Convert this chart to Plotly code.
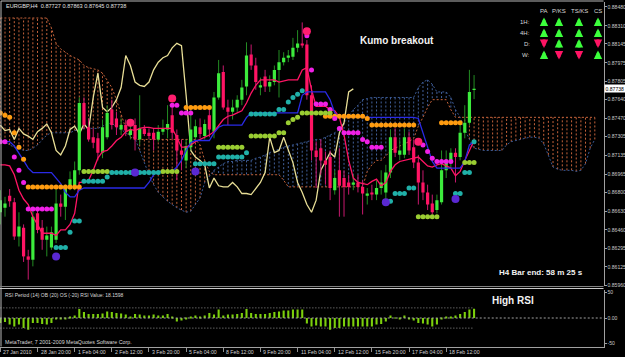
import plotly.graph_objects as go

# ---------------- data (EURGBP, H4) ----------------
opens = [0.8662, 0.8666, 0.8677, 0.8671, 0.8640, 0.8648, 0.8622, 0.8619, 0.8661, 0.8648,
         0.8637, 0.8630, 0.8637, 0.8670, 0.8667, 0.8684, 0.8684, 0.8700, 0.8761, 0.8739,
         0.8730, 0.8729, 0.8716, 0.8730, 0.8755, 0.8747, 0.8737, 0.8741, 0.8732, 0.8741,
         0.8728, 0.8738, 0.8734, 0.8734, 0.8728, 0.8735, 0.8737, 0.8750, 0.8732, 0.8718,
         0.8709, 0.8721, 0.8730, 0.8739, 0.8731, 0.8750, 0.8735, 0.8766, 0.8789, 0.8757,
         0.8753, 0.8757, 0.8764, 0.8776, 0.8805, 0.8795, 0.8775, 0.8785, 0.8776, 0.8780,
         0.8791, 0.8798, 0.8802, 0.8803, 0.8811, 0.8815, 0.8814, 0.8768, 0.8718, 0.8720,
         0.8709, 0.8712, 0.8682, 0.8700, 0.8693, 0.8689, 0.8687, 0.8689, 0.8685, 0.8677,
         0.8680, 0.8678, 0.8684, 0.8680, 0.8698, 0.8730, 0.8714, 0.8714, 0.8730, 0.8721,
         0.8707, 0.8689, 0.8680, 0.8670, 0.8664, 0.8671, 0.8700, 0.8707, 0.8716, 0.8712,
         0.8734, 0.8743, 0.87727]
highs = [0.8682, 0.8676, 0.8683, 0.8675, 0.8662, 0.8651, 0.8628, 0.8664, 0.8666, 0.8655,
         0.8649, 0.8649, 0.8685, 0.8678, 0.8687, 0.8699, 0.8708, 0.8766, 0.8766, 0.8747,
         0.8738, 0.8734, 0.8746, 0.8759, 0.8764, 0.8753, 0.8747, 0.8746, 0.8746, 0.8747,
         0.8768, 0.8741, 0.8738, 0.8738, 0.8741, 0.8746, 0.8759, 0.8757, 0.8737, 0.8728,
         0.8728, 0.8755, 0.8746, 0.8747, 0.8746, 0.8759, 0.8771, 0.8800, 0.8795, 0.8764,
         0.8764, 0.8768, 0.8782, 0.8816, 0.8814, 0.8802, 0.8784, 0.8791, 0.8786, 0.8795,
         0.8809, 0.8807, 0.8809, 0.8820, 0.8827, 0.8834, 0.8818, 0.8777, 0.8726, 0.8728,
         0.8717, 0.8718, 0.8700, 0.8720, 0.8700, 0.8696, 0.8696, 0.8696, 0.8691, 0.8684,
         0.8687, 0.8691, 0.8700, 0.8705, 0.8737, 0.8738, 0.8728, 0.8738, 0.8735, 0.8728,
         0.8714, 0.8700, 0.8687, 0.8678, 0.8678, 0.8718, 0.8718, 0.8720, 0.8720, 0.8741,
         0.8759, 0.8791, 0.87863]
lows = [0.8651, 0.8658, 0.8667, 0.8637, 0.8631, 0.8617, 0.8601, 0.8613, 0.8643, 0.8628,
        0.8622, 0.8628, 0.8634, 0.8658, 0.8655, 0.8682, 0.8682, 0.8696, 0.8737, 0.8726,
        0.8720, 0.8709, 0.8711, 0.8728, 0.8737, 0.8732, 0.8732, 0.8731, 0.8728, 0.8718,
        0.8723, 0.8731, 0.8728, 0.8718, 0.8726, 0.8732, 0.8729, 0.8728, 0.8691, 0.8700,
        0.8702, 0.8718, 0.8728, 0.8729, 0.8728, 0.8730, 0.8729, 0.8764, 0.8755, 0.8741,
        0.8746, 0.8753, 0.8759, 0.8768, 0.8791, 0.8773, 0.8768, 0.8771, 0.8771, 0.8777,
        0.8766, 0.8795, 0.8798, 0.8800, 0.8807, 0.8811, 0.8764, 0.8709, 0.8684, 0.8696,
        0.8687, 0.8673, 0.8678, 0.8658, 0.8658, 0.8678, 0.8682, 0.8680, 0.8660, 0.8669,
        0.8673, 0.8673, 0.8678, 0.8669, 0.8693, 0.8712, 0.8709, 0.8711, 0.8714, 0.8702,
        0.8669, 0.8673, 0.8664, 0.8660, 0.8661, 0.8669, 0.8693, 0.8702, 0.8689, 0.8709,
        0.8729, 0.8741, 0.87645]
closes = [0.8673, 0.8670, 0.8672, 0.8640, 0.8649, 0.8622, 0.8619, 0.8658, 0.8646, 0.8637,
          0.8641, 0.8644, 0.8670, 0.8667, 0.8684, 0.8692, 0.8700, 0.8761, 0.8741, 0.8728,
          0.8725, 0.8716, 0.8739, 0.8752, 0.8741, 0.8739, 0.8741, 0.8736, 0.8737, 0.8728,
          0.8738, 0.8733, 0.8731, 0.8728, 0.8735, 0.8738, 0.8742, 0.8734, 0.8718, 0.8714,
          0.8722, 0.8737, 0.8740, 0.8733, 0.8742, 0.8737, 0.8766, 0.8788, 0.8757, 0.8753,
          0.8757, 0.8764, 0.8775, 0.8804, 0.8795, 0.8780, 0.8777, 0.8776, 0.8780, 0.8791,
          0.8798, 0.8802, 0.8804, 0.8811, 0.8815, 0.8813, 0.8768, 0.8718, 0.8712, 0.8709,
          0.8705, 0.8684, 0.8693, 0.8686, 0.8685, 0.8685, 0.8689, 0.8685, 0.8679, 0.8679,
          0.8678, 0.8684, 0.8689, 0.8698, 0.8730, 0.8716, 0.8718, 0.8730, 0.8718, 0.8707,
          0.8689, 0.8680, 0.8669, 0.8662, 0.8673, 0.8700, 0.8708, 0.8716, 0.8712, 0.8734,
          0.8743, 0.8771, 0.87738]

tenkan = [0.8705, 0.8705, 0.8704, 0.8696, 0.8682, 0.8674, 0.8669, 0.8658, 0.8651, 0.8643,
          0.8643, 0.8643, 0.8641, 0.8646, 0.8646, 0.8651, 0.8661, 0.8689, 0.8689, 0.8691,
          0.8700, 0.8711, 0.8717, 0.8718, 0.8722, 0.8727, 0.8730, 0.8735, 0.8737, 0.8736,
          0.8738, 0.8739, 0.8739, 0.8738, 0.8738, 0.8738, 0.8738, 0.8738, 0.8730, 0.8721,
          0.8721, 0.8723, 0.8726, 0.8728, 0.8730, 0.8732, 0.8735, 0.8741, 0.8746, 0.8749,
          0.8750, 0.8752, 0.8754, 0.8761, 0.8770, 0.8777, 0.8782, 0.8782, 0.8782, 0.8782,
          0.8780, 0.8781, 0.8782, 0.8782, 0.8782, 0.8791, 0.8793, 0.8773, 0.8758, 0.8758,
          0.8758, 0.8755, 0.8754, 0.8748, 0.8732, 0.8709, 0.8693, 0.8689, 0.8688, 0.8687,
          0.8690, 0.8692, 0.8686, 0.8689, 0.8699, 0.8705, 0.8708, 0.8709, 0.8710, 0.8711,
          0.8712, 0.8708, 0.8704, 0.8703, 0.8705, 0.8706, 0.8704, 0.8702, 0.8695, 0.8699,
          0.8709, 0.8718, 0.8727]
kijun = [0.8726, 0.8726, 0.8726, 0.8722, 0.8716, 0.8709, 0.8702, 0.8698, 0.8698, 0.8698,
         0.8698, 0.8698, 0.8693, 0.8688, 0.8680, 0.8676, 0.8676, 0.8682, 0.8684, 0.8684,
         0.8684, 0.8684, 0.8684, 0.8684, 0.8684, 0.8684, 0.8684, 0.8684, 0.8684, 0.8684,
         0.8684, 0.8684, 0.8689, 0.8696, 0.8699, 0.8699, 0.8699, 0.8699, 0.8703, 0.8709,
         0.8718, 0.8725, 0.8727, 0.8727, 0.8727, 0.8727, 0.8734, 0.8739, 0.8741, 0.8741,
         0.8741, 0.8741, 0.8741, 0.8748, 0.8752, 0.8752, 0.8752, 0.8752, 0.8752, 0.8752,
         0.8752, 0.8752, 0.8752, 0.8752, 0.8752, 0.8768, 0.8771, 0.8771, 0.8771, 0.8771,
         0.8771, 0.8764, 0.8752, 0.8748, 0.8748, 0.8748, 0.8748, 0.8748, 0.8748, 0.8748,
         0.8748, 0.8748, 0.8748, 0.8748, 0.8748, 0.8748, 0.8748, 0.8748, 0.8748, 0.8748,
         0.8747, 0.8735, 0.8721, 0.8708, 0.8702, 0.8702, 0.8702, 0.8702, 0.8702, 0.8702,
         0.8708, 0.8723, 0.8726]

# Senkou spans (already displaced 26 bars forward, so 26 values longer)
span_a = [0.8728, 0.8726, 0.8723, 0.8721, 0.8720, 0.8718, 0.8718, 0.8720, 0.8723, 0.8728,
          0.8732, 0.8734, 0.8734, 0.8734, 0.8734, 0.8734, 0.8736, 0.8737, 0.8738, 0.8738,
          0.8738, 0.8738, 0.8740, 0.8742, 0.8743, 0.8739, 0.8737, 0.8734, 0.8731, 0.8729,
          0.8718, 0.8708, 0.8696, 0.8687, 0.8680, 0.8676, 0.8672, 0.8669, 0.8666, 0.8664,
          0.8662, 0.8663, 0.8669, 0.8675, 0.8689, 0.8695, 0.8700, 0.8703, 0.8706, 0.8708,
          0.8708, 0.8709, 0.8709, 0.8709, 0.8709, 0.8711, 0.8712, 0.8714, 0.8716, 0.8718,
          0.8719, 0.8721, 0.8722, 0.8723, 0.8724, 0.8725, 0.8726, 0.8727, 0.8728, 0.8728,
          0.8730, 0.8732, 0.8734, 0.8737, 0.8743, 0.8749, 0.8755, 0.8759, 0.8764, 0.8765,
          0.8766, 0.8766, 0.8766, 0.8766, 0.8766, 0.8766, 0.8766, 0.8766, 0.8766, 0.8766,
          0.8775, 0.8780, 0.8782, 0.8778, 0.8771, 0.8771, 0.8771, 0.8766, 0.8755, 0.8748,
          0.8737, 0.8728, 0.8720, 0.8719, 0.8718, 0.8718, 0.8718, 0.8718, 0.8718, 0.8723,
          0.8726, 0.8727, 0.8728, 0.8729, 0.8730, 0.8730, 0.8729, 0.8724, 0.8714, 0.8703,
          0.8701, 0.8700, 0.8700, 0.8700, 0.8699, 0.8700, 0.8706, 0.8720, 0.8728]
span_b = [0.8838, 0.8838, 0.8838, 0.8838, 0.8838, 0.8838, 0.8838, 0.8838, 0.8838, 0.8838,
          0.8838, 0.8829, 0.8815, 0.8810, 0.8807, 0.8804, 0.8802, 0.8800, 0.8795, 0.8793,
          0.8792, 0.8791, 0.8788, 0.8782, 0.8775, 0.8764, 0.8750, 0.8738, 0.8730, 0.8728,
          0.8728, 0.8728, 0.8728, 0.8728, 0.8728, 0.8728, 0.8728, 0.8728, 0.8728, 0.8728,
          0.8728, 0.8728, 0.8728, 0.8723, 0.8709, 0.8699, 0.8696, 0.8696, 0.8696, 0.8696,
          0.8696, 0.8696, 0.8696, 0.8696, 0.8696, 0.8696, 0.8696, 0.8696, 0.8696, 0.8696,
          0.8696, 0.8691, 0.8685, 0.8685, 0.8685, 0.8685, 0.8685, 0.8685, 0.8685, 0.8685,
          0.8685, 0.8685, 0.8685, 0.8685, 0.8685, 0.8685, 0.8685, 0.8685, 0.8685, 0.8699,
          0.8705, 0.8709, 0.8709, 0.8713, 0.8718, 0.8720, 0.8722, 0.8724, 0.8726, 0.8729,
          0.8740, 0.8748, 0.8757, 0.8764, 0.8764, 0.8764, 0.8764, 0.8755, 0.8748, 0.8748,
          0.8748, 0.8748, 0.8748, 0.8748, 0.8748, 0.8748, 0.8748, 0.8748, 0.8748, 0.8748,
          0.8748, 0.8748, 0.8748, 0.8748, 0.8748, 0.8748, 0.8748, 0.8748, 0.8748, 0.8748,
          0.8748, 0.8748, 0.8748, 0.8748, 0.8748, 0.8748, 0.8748, 0.8748, 0.8748]

# RSI(14) - 50 histogram
rsi_hist = [-10, -8, -13, -17, -13, -20, -23, -10, -10, -12, -13, -10, -3, -1, -2, 3, 5, 18, 12, 8,
            8, 8, 9, 13, 12, 10, 9, 7, 2, 8, 7, 5, 5, 7, 5, 5, 8, 1, -7, -5,
            -1, 1, 5, 3, 5, 10, 7, 17, 5, 7, 7, 8, 10, 18, 10, 8, 8, 8, 10, 12,
            13, 15, 15, 17, 17, 17, -11, -17, -15, -17, -17, -23, -20, -20, -17, -17, -17, -17, -17, -17,
            -17, -13, -12, -7, 5, 0.5, -1, 5, -2, -5, -10, -11, -13, -17, -13, -2, 2, 3, 5, 8,
            12, 17, 18.1598]
rsi_levels = [20, -20]

# stop / signal dots (bar index, price)
orange_x = [0, 1, 2, 3, 4, 5, 6, 7, 8, 9, 10, 11, 12, 13, 14, 15, 16, 17,
            40, 41, 42, 43, 44, 45, 70, 71, 72, 73, 74, 75, 76, 77, 78, 79,
            80, 81, 82, 83, 84, 85, 86, 87, 88, 89, 95, 96, 97, 98, 99]
orange_y = [0.8752, 0.8750, 0.8748, 0.8734, 0.8721, 0.8710, 0.8685, 0.8685, 0.8685, 0.8685,
            0.8685, 0.8685, 0.8685, 0.8685, 0.8685, 0.8685, 0.8685, 0.8685,
            0.8757, 0.8757, 0.8757, 0.8757, 0.8757, 0.8757,
            0.8749, 0.8749, 0.8749, 0.8749, 0.8749, 0.8749, 0.8749, 0.8749, 0.8749, 0.8747,
            0.8741, 0.8741, 0.8741, 0.8741, 0.8741, 0.8741, 0.8741, 0.8741, 0.8741, 0.8741,
            0.8743, 0.8743, 0.8743, 0.8743, 0.8743]
magenta_x = [0, 1, 3, 4, 5, 6, 7, 8, 9, 10, 11, 37, 38, 39, 40, 41, 66, 67, 68, 69, 70,
             71, 72, 73, 74, 75, 76, 77, 78, 79, 80, 81, 82, 91, 92, 93, 94, 95, 96, 97]
magenta_y = [0.8726, 0.8726, 0.8712, 0.8700, 0.8689, 0.8665, 0.8665, 0.8665, 0.8665, 0.8665,
             0.8665, 0.8759, 0.8759, 0.8752, 0.8752, 0.8752, 0.8822, 0.8791, 0.8760, 0.8760,
             0.8760, 0.8755, 0.8747, 0.8738, 0.8734, 0.8734, 0.8734, 0.8734, 0.8728, 0.8726,
             0.8721, 0.8721, 0.8721, 0.8723, 0.8717, 0.8711, 0.8708, 0.8708, 0.8708, 0.8708]
lime_x = [18, 19, 20, 21, 22, 23, 35, 36, 37, 38, 47, 48, 49, 50, 51, 52,
          54, 55, 56, 57, 58, 59, 60, 61, 62, 63, 64, 65, 66, 67, 68, 69, 70, 71,
          90, 91, 92, 93, 94, 100, 101, 102]
lime_y = [0.8699, 0.8699, 0.8699, 0.8699, 0.8699, 0.8699, 0.8699, 0.8699, 0.8699, 0.8699,
          0.8721, 0.8721, 0.8721, 0.8721, 0.8721, 0.8721,
          0.8731, 0.8731, 0.8731, 0.8731, 0.8731, 0.8731, 0.8734, 0.8734, 0.8743, 0.8746,
          0.8748, 0.8752, 0.8752, 0.8752, 0.8752, 0.8752, 0.8752, 0.8752,
          0.8658, 0.8658, 0.8658, 0.8658, 0.8658, 0.8707, 0.8707, 0.8707]
teal_x = [12, 13, 14, 15, 16, 17, 18, 19, 20, 21, 22, 23, 24, 25, 26, 27, 28, 29, 30, 31,
          32, 33, 34, 42, 43, 44, 45, 46, 47, 48, 49, 50, 51, 52, 53, 54, 55, 56, 57, 58,
          59, 60, 61, 62, 63, 64, 65, 84, 85, 86, 87, 88, 89, 98, 99, 100, 101, 102]
teal_y = [0.8630, 0.8630, 0.8630, 0.8644, 0.8654, 0.8654, 0.8690, 0.8690, 0.8690, 0.8690,
          0.8690, 0.8694, 0.8698, 0.8698, 0.8698, 0.8698, 0.8698, 0.8698, 0.8698, 0.8698,
          0.8698, 0.8698, 0.8698, 0.8706, 0.8706, 0.8706, 0.8706, 0.8706, 0.8712, 0.8712,
          0.8712, 0.8712, 0.8712, 0.8712, 0.8716, 0.8751, 0.8751, 0.8751, 0.8751, 0.8751,
          0.8751, 0.8755, 0.8755, 0.8762, 0.8766, 0.8769, 0.8772, 0.8672, 0.8679, 0.8679,
          0.8679, 0.8684, 0.8684, 0.8679, 0.8679, 0.8698, 0.8698, 0.8726]
purple_x = [12, 29, 42, 83, 98]
purple_y = [0.8622, 0.8698, 0.8699, 0.8671, 0.8674]
bigred_x = [28, 37, 66, 90]
bigred_y = [0.8743, 0.8765, 0.8826, 0.8726]

date_labels = ["27 Jan 2010", "28 Jan 20:00", "1 Feb 04:00", "2 Feb 12:00", "3 Feb 20:00",
               "5 Feb 04:00", "8 Feb 12:00", "9 Feb 20:00", "11 Feb 04:00", "12 Feb 12:00",
               "15 Feb 20:00", "17 Feb 04:00", "18 Feb 12:00"]
date_label_bars = [0, 8, 16, 24, 32, 40, 48, 56, 64, 72, 80, 88, 96]
price_ticks = [0.88480, 0.88310, 0.88145, 0.87975, 0.87805, 0.87640, 0.87470, 0.87305,
               0.87135, 0.86965, 0.86800, 0.86630, 0.86460, 0.86295, 0.86125, 0.85960]
rsi_ticks = [50, 0, -50]
rsi_tick_text = ["50", "0.00", "-50"]
chikou_shift = 26

table_cols = ["PA", "P/KS", "TS/KS", "CS"]
table_rows = ["1H:", "4H:", "D:", "W:"]
table_signals = [[1, 1, 1, 1], [1, 1, 1, 1], [-1, 1, 1, -1], [1, -1, -1, 1]]

# ---------------- figure ----------------
W, H = 625, 357
FONT = "Liberation Sans"
N = len(closes)
idx = list(range(N))


def px(x):
    return x / W


def py(y):
    return 1 - y / H


def segments(xs, y0, y1):
    X, Y = [], []
    for x, a, b in zip(xs, y0, y1):
        X += [x, x, None]
        Y += [a, b, None]
    return X, Y


fig = go.Figure()

# Kumo (cloud) drawn as dotted vertical strokes
kk = list(range(len(span_a)))
up_k = [k for k in kk if span_b[k] >= span_a[k]]
dn_k = [k for k in kk if span_b[k] < span_a[k]]
for ks, col in ((up_k, "#C4623A"), (dn_k, "#42609A")):
    X, Y = segments(ks, [span_a[k] for k in ks], [span_b[k] for k in ks])
    fig.add_trace(go.Scatter(x=X, y=Y, mode="lines", hoverinfo="skip",
                             line=dict(color=col, width=1, dash="2px,2px")))
fig.add_trace(go.Scatter(x=kk, y=span_b, mode="lines", hoverinfo="skip",
                         line=dict(color="#C4623A", width=1, dash="2px,2px")))
fig.add_trace(go.Scatter(x=kk, y=span_a, mode="lines", hoverinfo="skip",
                         line=dict(color="#3A5A96", width=1, dash="2px,2px")))

# Chikou span
fig.add_trace(go.Scatter(x=idx[:N - chikou_shift], y=closes[chikou_shift:], mode="lines",
                         hoverinfo="skip", line=dict(color="#E8DE96", width=1.3)))

# candles
bull = [i for i in idx if closes[i] >= opens[i]]
bear = [i for i in idx if closes[i] < opens[i]]
for grp, wick, body in ((bull, "#238C23", "#3CEB3C"), (bear, "#C8186E", "#FF1464")):
    X, Y = segments(grp, [lows[i] for i in grp], [highs[i] for i in grp])
    fig.add_trace(go.Scatter(x=X, y=Y, mode="lines", hoverinfo="skip",
                             line=dict(color=wick, width=1)))
    X, Y = segments(grp, [opens[i] for i in grp], [closes[i] for i in grp])
    fig.add_trace(go.Scatter(x=X, y=Y, mode="lines", hoverinfo="skip",
                             line=dict(color=body, width=3.2)))

# Tenkan / Kijun
fig.add_trace(go.Scatter(x=idx, y=tenkan, mode="lines", hoverinfo="skip",
                         line=dict(color="#FF1464", width=1.3)))
fig.add_trace(go.Scatter(x=idx, y=kijun, mode="lines", hoverinfo="skip",
                         line=dict(color="#2A2AE6", width=1.3)))

# dots
for xs, ys, col, sz in ((orange_x, orange_y, "#FF9C10", 5), (magenta_x, magenta_y, "#F020E6", 5),
                        (lime_x, lime_y, "#9ACD32", 5), (teal_x, teal_y, "#20B0A8", 5),
                        (purple_x, purple_y, "#5A28D2", 8), (bigred_x, bigred_y, "#FF1E6E", 8)):
    fig.add_trace(go.Scatter(x=xs, y=ys, mode="markers", hoverinfo="skip",
                             marker=dict(color=col, size=sz, line=dict(width=0))))

# RSI panel
fig.add_trace(go.Bar(x=idx, y=rsi_hist, xaxis="x2", yaxis="y2", width=0.45,
                     marker=dict(color="#7CD00C", line=dict(width=0)), hoverinfo="skip"))
for lv in rsi_levels:
    fig.add_trace(go.Scatter(x=[idx[0], idx[-1]], y=[lv, lv], xaxis="x2", yaxis="y2",
                             mode="lines", hoverinfo="skip",
                             line=dict(color="#909090", width=1, dash="1px,2px")))
fig.add_trace(go.Scatter(x=[-1, 131], y=[0, 0], xaxis="x2", yaxis="y2", mode="lines",
                         hoverinfo="skip", line=dict(color="#A0A0A0", width=1, dash="2px,2px")))

XR = [-0.0775, 129.87]
XD = [0, 603.5 / W]
axis_font = dict(family=FONT, size=5.1, color="#C8C8C8")
fig.update_layout(
    width=W, height=H, margin=dict(l=0, r=0, t=0, b=0, pad=0),
    paper_bgcolor="black", plot_bgcolor="black", showlegend=False,
    font=dict(family=FONT, color="#E0E0E0"),
    xaxis=dict(domain=XD, range=XR, anchor="y", showgrid=False, zeroline=False,
               showticklabels=False, showline=False, automargin=False),
    xaxis2=dict(domain=XD, range=XR, anchor="y2", showgrid=False, zeroline=False,
                showticklabels=False, showline=True, linecolor="#A0A0A0", linewidth=1,
                ticks="outside", ticklen=4, tickcolor="#909090", tickvals=date_label_bars,
                automargin=False),
    yaxis=dict(domain=[1 - 286 / H, 1 - 2 / H], range=[0.85952, 0.88525], anchor="x",
               side="right", showgrid=False, zeroline=False, showline=True,
               linecolor="#A0A0A0", linewidth=1, ticks="outside", ticklen=2,
               tickcolor="#A0A0A0", tickvals=price_ticks, ticklabelstandoff=0,
               ticktext=["%.5f" % v for v in price_ticks], tickfont=axis_font,
               automargin=False),
    yaxis2=dict(domain=[1 - 346.5 / H, 1 - 289.5 / H], range=[-56.3, 56.3], anchor="x2",
                side="right", showgrid=False, zeroline=False, showline=True,
                linecolor="#A0A0A0", linewidth=1, ticks="outside", ticklen=2,
                tickcolor="#A0A0A0", tickvals=rsi_ticks, ticktext=rsi_tick_text,
                ticklabelstandoff=0, tickfont=axis_font, automargin=False),
)

shapes = [
    dict(type="line", xref="paper", yref="paper", x0=px(1), x1=px(603.5), y0=py(1), y1=py(1),
         line=dict(color="#B8B8B8", width=1)),
    dict(type="line", xref="paper", yref="paper", x0=px(1), x1=px(1), y0=py(1), y1=py(346.5),
         line=dict(color="#B8B8B8", width=1)),
    dict(type="line", xref="paper", yref="paper", x0=0, x1=px(603.5), y0=py(286.5),
         y1=py(286.5), line=dict(color="#808080", width=1)),
    dict(type="line", xref="paper", yref="paper", x0=0, x1=px(603.5), y0=py(288.5),
         y1=py(288.5), line=dict(color="#C8C8C8", width=1)),
]
fig.update_layout(shapes=shapes)

ann = []
ann.append(dict(xref="paper", yref="paper", x=px(4), y=py(6), xanchor="left", yanchor="middle",
                text="EURGBP,H4\u00a0 0.87727 0.87863 0.87645 0.87738", showarrow=False,
                font=dict(family=FONT, size=5.6, color="#E0E0E0")))
ann.append(dict(xref="paper", yref="paper", x=px(397), y=py(40), xanchor="center",
                yanchor="middle", text="<b>Kumo breakout</b>", showarrow=False,
                font=dict(family=FONT, size=10, color="#F2F2F2")))
ann.append(dict(xref="paper", yref="paper", x=px(497), y=py(272), xanchor="left",
                yanchor="middle", text="<b>H4 Bar end: 58 m 25 s</b>", showarrow=False,
                font=dict(family=FONT, size=8, color="#F2F2F2")))
ann.append(dict(xref="paper", yref="paper", x=px(490), y=py(300), xanchor="left",
                yanchor="middle", text="<b>High RSI</b>", showarrow=False,
                font=dict(family=FONT, size=10, color="#F2F2F2")))
ann.append(dict(xref="paper", yref="paper", x=px(3), y=py(294.5), xanchor="left",
                yanchor="middle", text="RSI Period (14) OB (20) OS (-20) RSI Value: 18.1598",
                showarrow=False, font=dict(family=FONT, size=5, color="#D8D8D8")))
ann.append(dict(xref="paper", yref="paper", x=px(3), y=py(342), xanchor="left",
                yanchor="middle", text="MetaTrader, 7 2001-2009 MetaQuotes Software Corp.",
                showarrow=False, font=dict(family=FONT, size=5.3, color="#D8D8D8")))
for b, lab in zip(date_label_bars, date_labels):
    ann.append(dict(xref="x2", yref="paper", x=b, y=py(352), xanchor="left", yanchor="middle",
                    text=lab, showarrow=False, xshift=1,
                    font=dict(family=FONT, size=5.2, color="#D0D0D0")))
# current price box
ann.append(dict(xref="paper", yref="y", x=px(604), y=closes[-1], xanchor="left",
                yanchor="middle", text="%.5f" % closes[-1], showarrow=False,
                bgcolor="#FFFFFF", borderpad=0.5,
                font=dict(family=FONT, size=5.1, color="#000000")))
# signal table
col_px = [544, 559, 579, 598]
row_px = [22, 33, 43.5, 55]
for c, name in enumerate(table_cols):
    ann.append(dict(xref="paper", yref="paper", x=px(col_px[c]), y=py(11.5), xanchor="center",
                    yanchor="middle", text=name, showarrow=False,
                    font=dict(family=FONT, size=6, color="#D8D8D8")))
for r, name in enumerate(table_rows):
    ann.append(dict(xref="paper", yref="paper", x=px(532), y=py(row_px[r]), xanchor="right",
                    yanchor="middle", text=name, showarrow=False,
                    font=dict(family=FONT, size=6, color="#D8D8D8")))
    for c in range(len(table_cols)):
        s = table_signals[r][c]
        col = "#3CFF3C" if s > 0 else "#FF1464"
        tip = row_px[r] - 4.5 if s > 0 else row_px[r] + 4.5
        ann.append(dict(xref="paper", yref="paper", x=px(col_px[c]), y=py(tip), text="",
                        showarrow=True, ax=0, ay=10 if s > 0 else -10, arrowhead=2,
                        arrowsize=0.6, arrowwidth=2.8, arrowcolor=col))
fig.update_layout(annotations=ann)

fig.write_html("out.html")
